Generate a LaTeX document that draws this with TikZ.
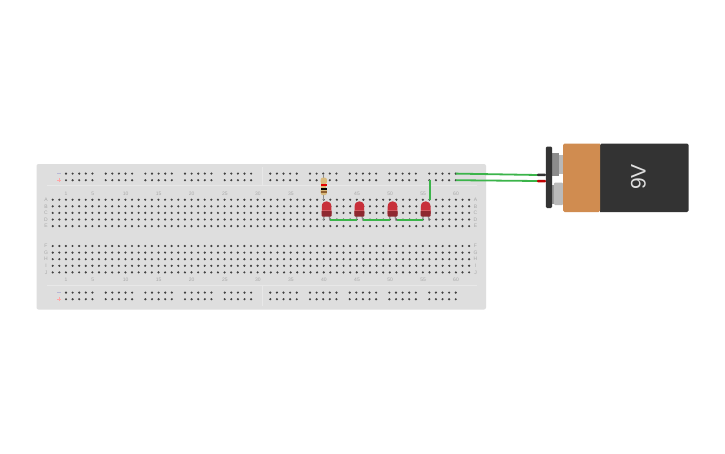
\documentclass[tikz,border=0pt]{standalone}
\usepackage{fontspec}
\setmainfont{Liberation Sans}
\definecolor{boardc}{HTML}{DEDEDE}
\definecolor{holec}{HTML}{404040}
\definecolor{lblc}{HTML}{A8A8A8}
\definecolor{linec}{HTML}{E8E8E8}
\definecolor{wirec}{HTML}{3BB44A}
\definecolor{ledc}{HTML}{C8303A}
\definecolor{ledd}{HTML}{8E2830}
\definecolor{orangec}{HTML}{D08C50}
\definecolor{batc}{HTML}{333333}
\definecolor{tanc}{HTML}{D9BA7C}
\tikzset{
  x=1pt,y=-1pt,
  hole/.style={fill=holec,draw=none},
  lbl/.style={text=lblc,font=\fontsize{5}{6}\selectfont,inner sep=0pt},
  wire/.style={draw=wirec,line width=1.8pt},
  lead/.style={draw=black!45,line width=1.2pt},
}
\newcommand{\ledat}[1]{%
  \draw[lead] (#1-2.2,214) -- (#1-3.2,220.5);
  \draw[lead] (#1+2.2,214) -- (#1+3.4,220.5);
  \fill[ledc] (#1-4.8,214) -- (#1-4.8,206.5) .. controls (#1-4.8,199.5) and (#1+4.8,199.5) .. (#1+4.8,206.5) -- (#1+4.8,214) -- cycle;
  \fill[ledd,rounded corners=.8pt] (#1-5,210.5) rectangle (#1+5,216.5);
  \fill[ledc!80!white] (#1-4.8,209.6) rectangle (#1+4.8,211.4);
}
\begin{document}
\begin{tikzpicture}
\useasboundingbox (0,0) rectangle (725,453);
\fill[white] (0,0) rectangle (725,453);
\fill[boardc] (36.5,164) [rounded corners=2pt] rectangle (486,309.5);
\draw[linec,line width=.5pt] (47,185.7) -- (477,185.7) (47,285.3) -- (477,285.3);
\draw[linec,line width=.5pt] (262,167) -- (262,185.7) (262,285.3) -- (262,306);
% terminal holes
\foreach \c in {0,...,63}{
  \foreach \y in {199.7,206.3,212.9,219.5,226.1,246,252.6,259.2,265.8,272.4}{
    \fill[hole] ({52.7+\c*6.61},\y) circle[radius=1.2];
  }
}
% rail holes
\foreach \g in {66,105.7,145.4,185,224.7,270.3,310,349.7,389.4,429.3}{
  \foreach \i in {0,...,4}{
    \foreach \y in {173.6,180.2,292.6,299.2}{
      \fill[hole] ({\g+\i*6.61},\y) circle[radius=1.2];
    }
  }
}
% rail signs
\draw[blue!25!gray!45,line width=.7pt] (57,173.6) -- (61,173.6) (57,292.6) -- (61,292.6);
\draw[red!35,line width=.7pt] (57,180.2) -- (61,180.2) (59,178.2) -- (59,182.2) (57,299.2) -- (61,299.2) (59,297.2) -- (59,301.2);
% column labels
\foreach \n/\x in {1/66,5/92.7,10/125.7,15/158.7,20/191.7,25/224.8,30/257.8,35/290.9,40/323.9,45/357,50/390.1,55/423.1,60/456}{
  \node[lbl] (ct\n) at (\x,194) {\n};
  \node[lbl] (cb\n) at (\x,280) {\n};
}
% row labels
\foreach \t/\y in {A/199.7,B/206.3,C/212.9,D/219.5,E/226.1,F/246,G/252.6,H/259.2,I/265.8,J/272.4}{
  \node[lbl] (l\t) at (46,\y) {\t};
  \node[lbl] (r\t) at (475.5,\y) {\t};
}
% resistor
\draw[lead] (323.6,173.6) -- (323.6,199.7);
\fill[tanc,rounded corners=2pt] (320.7,177.7) rectangle (326.9,184);
\fill[tanc,rounded corners=2pt] (320.7,188.5) rectangle (326.9,195);
\fill[tanc] (321.3,181) rectangle (326.3,192);
\fill[red!90!black] (321.1,184.2) rectangle (326.5,186);
\fill[black] (321.1,187.7) rectangle (326.5,189.5);
\fill[brown!75!black] (321.1,190.9) rectangle (326.5,192.6);
% leds
\ledat{326.6}
\ledat{359.4}
\ledat{392.5}
\ledat{425.7}
% wires
\coordinate (w1) at (330,219.7); \coordinate (w2) at (356.8,219.7);
\coordinate (w3) at (363.2,219.7); \coordinate (w4) at (390,219.7);
\coordinate (w5) at (396.6,219.7); \coordinate (w6) at (423.3,219.7);
\coordinate (w7) at (429.8,200); \coordinate (w8) at (429.8,180);
\coordinate (b1) at (455.8,173.6); \coordinate (b2) at (538,175);
\coordinate (b3) at (455.8,180.2); \coordinate (b4) at (538,181);
\draw[wire] (w1) -- (w2);
\draw[wire] (w3) -- (w4);
\draw[wire] (w5) -- (w6);
\draw[wire,line width=2.1pt] (w7) -- (w8);
\draw[wire] (b1) -- (b2);
\draw[wire] (b3) -- (b4);
% battery
\fill[black!80,rounded corners=1pt] (537,173.6) rectangle (546,176.2);
\fill[red!75!black,rounded corners=1pt] (537,179.8) rectangle (546,182.4);
\fill[black!45] (552,153) rectangle (559,175.5);
\fill[black!28] (559,154.5) rectangle (563,173.5);
\fill[black!27,rounded corners=1pt] (554,182.7) rectangle (563,205);
\fill[black!40] (551.5,185) rectangle (554,204);
\fill[batc,rounded corners=1.2pt] (545.8,146.5) rectangle (552,208);
\fill[batc,rounded corners=1.5pt] (600,212) -- (688.6,212) -- (688.6,143.6) -- (600,143.6) [sharp corners] -- cycle;
\fill[orangec,rounded corners=1.5pt] (600,143.6) -- (563,143.6) -- (563,212) -- (600,212) [sharp corners] -- cycle;
\node[text=black!12,font=\fontsize{21}{24}\selectfont,rotate=90,inner sep=0pt] (v) at (638.5,177) {9V};
\end{tikzpicture}
\end{document}
